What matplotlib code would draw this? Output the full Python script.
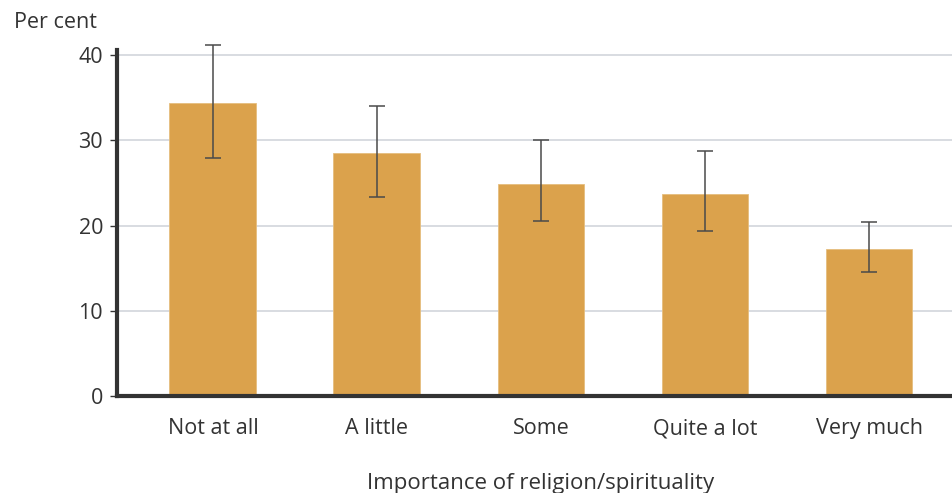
import matplotlib.pyplot as plt
import numpy as np

plt.rcParams['font.family'] = ['Open Sans', 'DejaVu Sans']

categories = ["Not at all", "A little", "Some", "Quite a lot", "Very much"]
values = [34.4, 28.5, 24.9, 23.7, 17.2]
err_low = [27.9, 23.3, 20.5, 19.4, 14.5]
err_high = [41.2, 34.0, 30.0, 28.7, 20.4]
yticks = [0, 10, 20, 30, 40]

text_col = '#333333'
bar_col = '#DBA24C'
fs = 15.5

fig = plt.figure(figsize=(9.52, 4.93), dpi=100)
ax = fig.add_axes([117 / 952, 97 / 493, 1 - 117 / 952, (396 - 50) / 493])

x = np.arange(len(categories))
vals = np.array(values)
yerr = np.array([vals - np.array(err_low), np.array(err_high) - vals])

ax.bar(x, vals, width=0.53, color=bar_col, edgecolor='#E6BE7E', linewidth=0.6, zorder=2)
eb = ax.errorbar(x, vals, yerr=yerr, fmt='none', ecolor='#4a4a4a', elinewidth=1.1,
                 capsize=6, capthick=1.1, zorder=3)
for art in eb.lines[1] + eb.lines[2]:
    art.set_clip_on(False)

ax.set_xlim(-0.585, 4.506)
ax.set_ylim(0, 40.6)
ax.set_yticks(yticks)
ax.set_xticks(x)
ax.set_xticklabels(categories)
ax.yaxis.grid(True, color='#d5d9de', linewidth=1.3, zorder=0)
ax.set_axisbelow(True)

for s in ['top', 'right']:
    ax.spines[s].set_visible(False)
for s in ['left', 'bottom']:
    ax.spines[s].set_color('#333333')
    ax.spines[s].set_linewidth(3)

ax.tick_params(axis='y', length=5, width=1, color='#333333', labelsize=fs,
               labelcolor=text_col, pad=5)
ax.tick_params(axis='x', length=0, labelsize=fs, labelcolor=text_col, pad=16)

fig.text(14 / 952, 1 - 23 / 493, 'Per cent', ha='left', va='center',
         fontsize=fs, color=text_col)
fig.text(541 / 952, 1 - 483 / 493, 'Importance of religion/spirituality',
         ha='center', va='center', fontsize=16, color=text_col)

fig.savefig('out.png', dpi=100)
